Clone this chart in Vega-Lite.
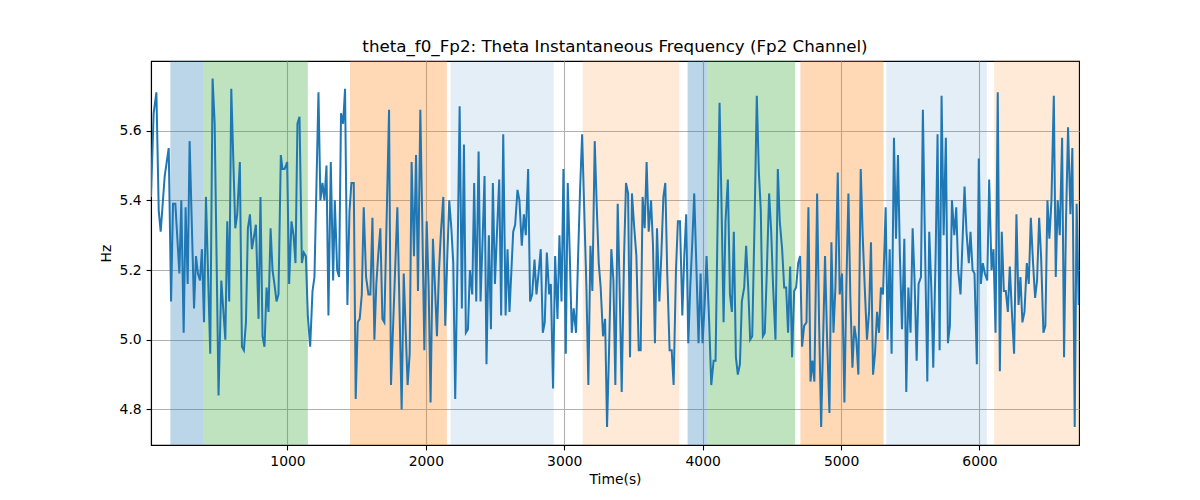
{
  "$schema": "https://vega.github.io/schema/vega-lite/v6.json",
  "autosize": "none",
  "width": 928,
  "height": 384,
  "padding": {"left": 151, "top": 61, "right": 121, "bottom": 55},
  "background": "white",
  "title": {
    "text": "theta_f0_Fp2: Theta Instantaneous Frequency (Fp2 Channel)",
    "font": "DejaVu Sans",
    "fontSize": 16.7,
    "fontWeight": "normal",
    "color": "black",
    "offset": 5
  },
  "config": {
    "font": "DejaVu Sans",
    "view": {"stroke": "black", "strokeWidth": 1.1},
    "axis": {
      "grid": true,
      "gridColor": "#b0b0b0",
      "gridWidth": 1.1,
      "domainColor": "black",
      "domainWidth": 1.1,
      "tickColor": "black",
      "tickWidth": 1.1,
      "tickSize": 4.9,
      "labelFont": "DejaVu Sans",
      "labelFontSize": 13.9,
      "labelColor": "black",
      "titleFont": "DejaVu Sans",
      "titleFontSize": 13.9,
      "titleFontWeight": "normal",
      "titleColor": "black"
    }
  },
  "datasets": {
    "bands": [
      {"start": 154, "end": 390, "kind": "blue"},
      {"start": 390, "end": 1147, "kind": "green"},
      {"start": 1452, "end": 2152, "kind": "orange"},
      {"start": 2179, "end": 2924, "kind": "lightblue"},
      {"start": 3133, "end": 3831, "kind": "lightorange"},
      {"start": 3891, "end": 4033, "kind": "blue"},
      {"start": 4033, "end": 4668, "kind": "green"},
      {"start": 4706, "end": 5307, "kind": "orange"},
      {"start": 5327, "end": 6053, "kind": "lightblue"},
      {"start": 6106, "end": 6719, "kind": "lightorange"}
    ],
    "series": [
      {"t":14,"hz":5.41},{"t":33,"hz":5.65},{"t":53,"hz":5.71},{"t":70,"hz":5.37},{"t":84,"hz":5.31},{"t":113,"hz":5.47},{"t":142,"hz":5.55},{"t":159,"hz":5.11},{"t":173,"hz":5.39},{"t":190,"hz":5.39},{"t":219,"hz":5.19},{"t":233,"hz":5.40},{"t":250,"hz":5.02},{"t":264,"hz":5.38},{"t":279,"hz":5.16},{"t":293,"hz":5.57},{"t":325,"hz":5.09},{"t":339,"hz":5.24},{"t":353,"hz":5.19},{"t":368,"hz":5.17},{"t":382,"hz":5.26},{"t":397,"hz":5.05},{"t":411,"hz":5.41},{"t":442,"hz":4.96},{"t":459,"hz":5.75},{"t":474,"hz":5.62},{"t":502,"hz":4.84},{"t":522,"hz":5.17},{"t":551,"hz":5.00},{"t":565,"hz":5.34},{"t":579,"hz":5.11},{"t":594,"hz":5.72},{"t":623,"hz":5.32},{"t":637,"hz":5.36},{"t":656,"hz":5.51},{"t":671,"hz":4.98},{"t":685,"hz":4.97},{"t":700,"hz":5.05},{"t":714,"hz":5.32},{"t":729,"hz":5.36},{"t":743,"hz":5.26},{"t":772,"hz":5.33},{"t":791,"hz":5.06},{"t":805,"hz":5.41},{"t":820,"hz":5.01},{"t":834,"hz":4.98},{"t":849,"hz":5.15},{"t":863,"hz":5.08},{"t":878,"hz":5.32},
      {"t":892,"hz":5.20},{"t":906,"hz":5.16},{"t":921,"hz":5.11},{"t":935,"hz":5.13},{"t":952,"hz":5.53},{"t":964,"hz":5.49},{"t":979,"hz":5.49},{"t":998,"hz":5.51},{"t":1012,"hz":5.16},{"t":1029,"hz":5.34},{"t":1044,"hz":5.30},{"t":1058,"hz":5.22},{"t":1072,"hz":5.62},{"t":1087,"hz":5.64},{"t":1104,"hz":5.22},{"t":1118,"hz":5.25},{"t":1133,"hz":5.24},{"t":1147,"hz":5.07},{"t":1164,"hz":4.98},{"t":1181,"hz":5.14},{"t":1195,"hz":5.18},{"t":1224,"hz":5.71},{"t":1238,"hz":5.40},{"t":1253,"hz":5.45},{"t":1267,"hz":5.40},{"t":1282,"hz":5.50},{"t":1296,"hz":5.07},{"t":1313,"hz":5.51},{"t":1330,"hz":5.17},{"t":1342,"hz":5.40},{"t":1359,"hz":5.20},{"t":1373,"hz":5.18},{"t":1387,"hz":5.65},{"t":1402,"hz":5.62},{"t":1416,"hz":5.72},{"t":1433,"hz":5.10},{"t":1448,"hz":5.37},{"t":1462,"hz":5.45},{"t":1479,"hz":5.45},{"t":1493,"hz":4.83},{"t":1508,"hz":5.05},{"t":1522,"hz":5.06},{"t":1537,"hz":5.13},{"t":1551,"hz":5.38},{"t":1568,"hz":5.18},{"t":1585,"hz":5.13},{"t":1599,"hz":5.13},{"t":1614,"hz":5.35},{"t":1628,"hz":5.00},{"t":1642,"hz":5.16},{"t":1657,"hz":5.25},{"t":1671,"hz":5.32},{"t":1686,"hz":5.06},{"t":1700,"hz":5.05},
      {"t":1734,"hz":5.66},{"t":1748,"hz":4.87},{"t":1794,"hz":5.38},{"t":1825,"hz":4.80},{"t":1840,"hz":5.19},{"t":1868,"hz":4.87},{"t":1883,"hz":4.96},{"t":1897,"hz":5.51},{"t":1914,"hz":5.24},{"t":1929,"hz":5.53},{"t":1943,"hz":5.14},{"t":1960,"hz":5.66},{"t":1974,"hz":5.34},{"t":1989,"hz":4.97},{"t":2006,"hz":5.34},{"t":2020,"hz":5.15},{"t":2034,"hz":4.82},{"t":2051,"hz":5.29},{"t":2066,"hz":5.15},{"t":2080,"hz":5.01},{"t":2095,"hz":5.20},{"t":2109,"hz":5.31},{"t":2126,"hz":5.41},{"t":2140,"hz":5.04},{"t":2155,"hz":5.24},{"t":2169,"hz":5.40},{"t":2184,"hz":5.32},{"t":2198,"hz":5.22},{"t":2212,"hz":4.83},{"t":2229,"hz":5.24},{"t":2244,"hz":5.67},{"t":2260,"hz":5.09},{"t":2275,"hz":5.56},{"t":2289,"hz":5.02},{"t":2304,"hz":5.03},{"t":2318,"hz":5.20},{"t":2335,"hz":5.13},{"t":2349,"hz":5.45},{"t":2364,"hz":5.11},{"t":2381,"hz":5.54},{"t":2395,"hz":5.11},{"t":2410,"hz":5.29},{"t":2424,"hz":5.47},{"t":2438,"hz":4.93},{"t":2455,"hz":5.30},{"t":2470,"hz":5.03},{"t":2484,"hz":5.45},{"t":2499,"hz":5.16},{"t":2515,"hz":5.32},{"t":2530,"hz":5.46},{"t":2544,"hz":5.07},{"t":2559,"hz":5.59},{"t":2576,"hz":5.07},{"t":2590,"hz":5.26},{"t":2604,"hz":5.08},
      {"t":2631,"hz":5.31},{"t":2645,"hz":5.33},{"t":2662,"hz":5.43},{"t":2676,"hz":5.40},{"t":2693,"hz":5.27},{"t":2708,"hz":5.36},{"t":2722,"hz":5.30},{"t":2739,"hz":5.49},{"t":2753,"hz":5.11},{"t":2768,"hz":5.13},{"t":2785,"hz":5.23},{"t":2799,"hz":5.13},{"t":2814,"hz":5.19},{"t":2830,"hz":5.26},{"t":2845,"hz":5.02},{"t":2859,"hz":5.05},{"t":2874,"hz":5.25},{"t":2891,"hz":5.13},{"t":2903,"hz":5.16},{"t":2919,"hz":4.86},{"t":2934,"hz":5.24},{"t":2951,"hz":5.06},{"t":2965,"hz":5.30},{"t":2980,"hz":5.11},{"t":2994,"hz":5.49},{"t":3011,"hz":4.96},{"t":3025,"hz":5.45},{"t":3040,"hz":5.24},{"t":3054,"hz":5.02},{"t":3068,"hz":5.09},{"t":3085,"hz":5.02},{"t":3100,"hz":5.24},{"t":3114,"hz":5.43},{"t":3129,"hz":5.59},{"t":3143,"hz":5.39},{"t":3160,"hz":5.15},{"t":3174,"hz":4.87},{"t":3189,"hz":5.27},{"t":3203,"hz":5.14},{"t":3220,"hz":5.57},{"t":3234,"hz":5.39},{"t":3249,"hz":5.22},{"t":3263,"hz":5.15},{"t":3280,"hz":5.01},{"t":3295,"hz":5.06},{"t":3309,"hz":4.75},{"t":3323,"hz":4.96},{"t":3340,"hz":5.26},{"t":3355,"hz":5.17},{"t":3369,"hz":4.87},{"t":3386,"hz":5.39},{"t":3400,"hz":5.15},{"t":3415,"hz":4.85},
      {"t":3432,"hz":5.24},{"t":3446,"hz":5.45},{"t":3461,"hz":5.42},{"t":3475,"hz":4.95},{"t":3489,"hz":5.42},{"t":3504,"hz":5.33},{"t":3521,"hz":5.24},{"t":3538,"hz":4.97},{"t":3552,"hz":4.97},{"t":3566,"hz":5.41},{"t":3581,"hz":5.32},{"t":3595,"hz":5.51},{"t":3610,"hz":5.31},{"t":3627,"hz":5.40},{"t":3641,"hz":5.27},{"t":3655,"hz":4.99},{"t":3670,"hz":5.32},{"t":3687,"hz":5.11},{"t":3701,"hz":5.24},{"t":3716,"hz":5.41},{"t":3730,"hz":5.45},{"t":3744,"hz":5.19},{"t":3761,"hz":4.97},{"t":3776,"hz":4.97},{"t":3790,"hz":4.87},{"t":3807,"hz":5.20},{"t":3821,"hz":5.34},{"t":3836,"hz":5.34},{"t":3853,"hz":5.07},{"t":3867,"hz":5.24},{"t":3881,"hz":5.36},{"t":3896,"hz":4.99},{"t":3910,"hz":5.15},{"t":3925,"hz":5.28},{"t":3939,"hz":5.42},{"t":3956,"hz":5.19},{"t":3970,"hz":4.99},{"t":3985,"hz":5.19},{"t":3999,"hz":4.99},{"t":4014,"hz":5.10},{"t":4028,"hz":5.24},{"t":4047,"hz":5.05},{"t":4062,"hz":4.87},{"t":4079,"hz":4.94},{"t":4093,"hz":4.94},{"t":4108,"hz":5.34},{"t":4122,"hz":5.68},{"t":4136,"hz":5.39},{"t":4151,"hz":5.05},{"t":4165,"hz":5.34},{"t":4182,"hz":5.46},{"t":4197,"hz":5.13},{"t":4211,"hz":5.08},{"t":4225,"hz":5.31},{"t":4240,"hz":4.95},{"t":4254,"hz":4.90},
      {"t":4269,"hz":4.93},{"t":4283,"hz":5.11},{"t":4300,"hz":5.15},{"t":4314,"hz":5.27},{"t":4329,"hz":5.15},{"t":4343,"hz":5.00},{"t":4358,"hz":5.01},{"t":4375,"hz":5.34},{"t":4391,"hz":5.70},{"t":4406,"hz":5.48},{"t":4420,"hz":5.37},{"t":4435,"hz":5.01},{"t":4449,"hz":5.02},{"t":4463,"hz":5.19},{"t":4480,"hz":5.42},{"t":4495,"hz":5.31},{"t":4509,"hz":5.15},{"t":4526,"hz":5.00},{"t":4543,"hz":5.49},{"t":4557,"hz":5.34},{"t":4574,"hz":5.26},{"t":4589,"hz":5.15},{"t":4603,"hz":5.15},{"t":4617,"hz":5.02},{"t":4632,"hz":5.21},{"t":4646,"hz":4.95},{"t":4661,"hz":5.14},{"t":4675,"hz":5.15},{"t":4690,"hz":5.22},{"t":4704,"hz":5.24},{"t":4718,"hz":4.98},{"t":4733,"hz":5.04},{"t":4750,"hz":5.05},{"t":4764,"hz":5.38},{"t":4779,"hz":4.88},{"t":4793,"hz":4.94},{"t":4807,"hz":4.88},{"t":4827,"hz":5.42},{"t":4841,"hz":5.05},{"t":4856,"hz":4.75},{"t":4870,"hz":5.00},{"t":4884,"hz":5.24},{"t":4899,"hz":5.00},{"t":4916,"hz":4.79},{"t":4930,"hz":5.28},{"t":4945,"hz":5.02},{"t":4959,"hz":5.15},{"t":4976,"hz":5.48},{"t":4990,"hz":5.13},{"t":5007,"hz":5.19},{"t":5024,"hz":4.82},
      {"t":5038,"hz":5.15},{"t":5053,"hz":5.42},{"t":5067,"hz":5.12},{"t":5082,"hz":4.92},{"t":5096,"hz":5.04},{"t":5110,"hz":5.00},{"t":5125,"hz":4.90},{"t":5142,"hz":5.49},{"t":5156,"hz":5.30},{"t":5171,"hz":5.15},{"t":5187,"hz":5.00},{"t":5202,"hz":5.08},{"t":5216,"hz":5.28},{"t":5231,"hz":4.90},{"t":5245,"hz":4.96},{"t":5260,"hz":5.08},{"t":5274,"hz":5.02},{"t":5288,"hz":5.15},{"t":5303,"hz":5.13},{"t":5322,"hz":5.38},{"t":5336,"hz":5.00},{"t":5351,"hz":5.26},{"t":5365,"hz":4.96},{"t":5382,"hz":5.58},{"t":5397,"hz":5.29},{"t":5411,"hz":5.53},{"t":5425,"hz":5.24},{"t":5440,"hz":5.03},{"t":5457,"hz":5.29},{"t":5471,"hz":4.85},{"t":5486,"hz":5.15},{"t":5502,"hz":5.02},{"t":5517,"hz":5.32},{"t":5531,"hz":5.17},{"t":5546,"hz":4.94},{"t":5560,"hz":5.16},{"t":5577,"hz":5.18},{"t":5591,"hz":5.66},{"t":5606,"hz":5.28},{"t":5623,"hz":4.88},{"t":5637,"hz":5.31},{"t":5652,"hz":5.15},{"t":5666,"hz":4.92},{"t":5683,"hz":5.24},{"t":5697,"hz":5.59},{"t":5712,"hz":4.97},{"t":5726,"hz":5.70},{"t":5741,"hz":5.30},{"t":5757,"hz":5.58},{"t":5772,"hz":4.99},{"t":5786,"hz":5.04},{"t":5801,"hz":5.40},{"t":5818,"hz":5.30},{"t":5832,"hz":5.38},{"t":5846,"hz":5.20},{"t":5863,"hz":5.13},{"t":5878,"hz":5.29},{"t":5892,"hz":5.44},{"t":5906,"hz":5.31},{"t":5923,"hz":5.22},
      {"t":5935,"hz":5.31},{"t":5950,"hz":5.20},{"t":5964,"hz":5.19},{"t":5981,"hz":4.93},{"t":5995,"hz":5.52},{"t":6010,"hz":5.16},{"t":6024,"hz":5.22},{"t":6039,"hz":5.19},{"t":6056,"hz":5.17},{"t":6070,"hz":5.46},{"t":6087,"hz":5.20},{"t":6101,"hz":5.26},{"t":6116,"hz":5.02},{"t":6132,"hz":5.71},{"t":6147,"hz":4.91},{"t":6161,"hz":5.31},{"t":6176,"hz":5.14},{"t":6190,"hz":5.14},{"t":6205,"hz":5.08},{"t":6219,"hz":5.21},{"t":6234,"hz":5.08},{"t":6250,"hz":4.96},{"t":6267,"hz":5.36},{"t":6282,"hz":5.10},{"t":6296,"hz":5.18},{"t":6310,"hz":5.05},{"t":6325,"hz":5.08},{"t":6342,"hz":5.22},{"t":6356,"hz":5.16},{"t":6371,"hz":5.35},{"t":6387,"hz":5.22},{"t":6402,"hz":5.12},{"t":6416,"hz":5.17},{"t":6431,"hz":5.35},{"t":6445,"hz":5.24},{"t":6462,"hz":5.02},{"t":6476,"hz":5.04},{"t":6491,"hz":5.40},{"t":6505,"hz":5.29},{"t":6520,"hz":5.40},{"t":6537,"hz":5.70},{"t":6551,"hz":5.18},{"t":6565,"hz":5.40},{"t":6580,"hz":5.30},{"t":6597,"hz":5.58},{"t":6611,"hz":4.95},{"t":6625,"hz":5.34},{"t":6640,"hz":5.61},{"t":6657,"hz":5.36},{"t":6671,"hz":5.55},{"t":6688,"hz":4.75},{"t":6702,"hz":5.39},{"t":6717,"hz":5.10}
    ]
  },
  "layer": [
    {
      "data": {"name": "bands"},
      "mark": {"type": "rect"},
      "encoding": {
        "x": {"field": "start", "type": "quantitative", "scale": {"domain": [14, 6719], "nice": false, "zero": false}},
        "x2": {"field": "end"},
        "color": {
          "field": "kind",
          "type": "nominal",
          "scale": {
            "domain": ["blue", "green", "orange", "lightblue", "lightorange"],
            "range": ["#1f77b4", "#2ca02c", "#ff7f0e", "#1f77b4", "#ff7f0e"]
          },
          "legend": null
        },
        "opacity": {
          "condition": [
            {"test": "datum.kind === 'lightblue'", "value": 0.12},
            {"test": "datum.kind === 'lightorange'", "value": 0.16}
          ],
          "value": 0.3
        }
      }
    },
    {
      "data": {"name": "series"},
      "mark": {"type": "line", "color": "#1f77b4", "strokeWidth": 2, "clip": true},
      "encoding": {
        "x": {
          "field": "t",
          "type": "quantitative",
          "scale": {"domain": [14, 6719], "nice": false, "zero": false},
          "axis": {"title": "Time(s)", "values": [1000, 2000, 3000, 4000, 5000, 6000], "format": "d", "labelPadding": 4.9, "titlePadding": 4}
        },
        "y": {
          "field": "hz",
          "type": "quantitative",
          "scale": {"domain": [4.698, 5.8], "nice": false, "zero": false},
          "axis": {"title": "Hz", "values": [4.8, 5.0, 5.2, 5.4, 5.6], "format": ".1f", "labelPadding": 4.9, "titlePadding": 6}
        }
      }
    }
  ]
}
